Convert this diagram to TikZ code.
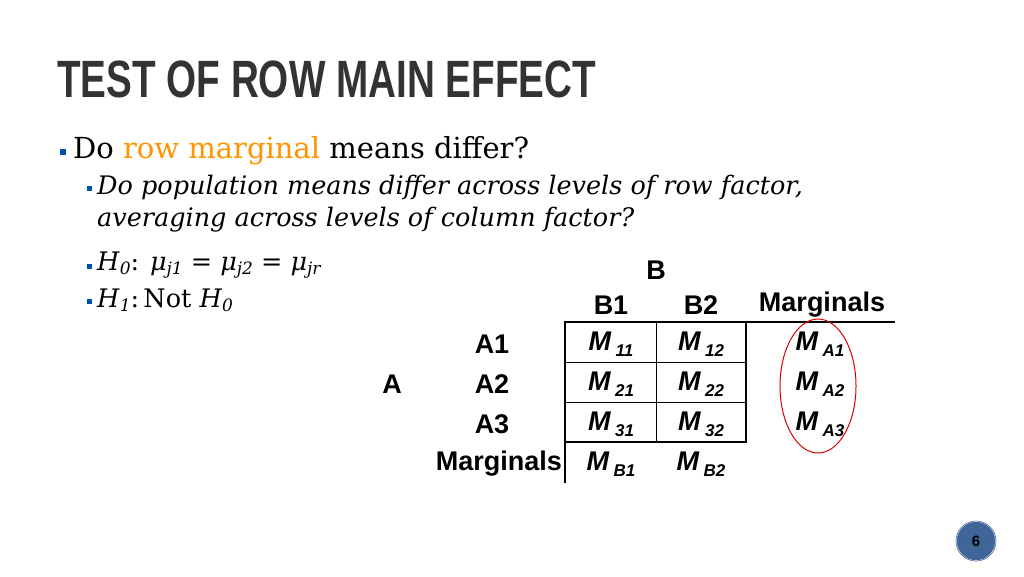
\documentclass[tikz,border=0pt]{standalone}
\usepackage{fontspec}
\setmainfont{DejaVu Serif}
\newfontfamily\arial{Liberation Sans}
\newcommand{\sbx}[1]{\raisebox{-4pt}{\fontsize{17}{17}\selectfont #1}}
\newcommand{\msub}[1]{\,{\fontsize{17}{17}\selectfont\raisebox{-6pt}{#1}}}
\begin{document}
\begin{tikzpicture}[x=1pt,y=-1pt,
  tb/.style={font=\arial\bfseries\fontsize{27}{29}\selectfont,inner sep=0pt},
  mm/.style={font=\arial\bfseries\itshape\fontsize{27}{29}\selectfont,inner sep=0pt},
  bul/.style={fill=blue!55!cyan!70!black,minimum size=#1,inner sep=0pt}]
\useasboundingbox (0,0) rectangle (1024,576);
\fill[white] (0,0) rectangle (1024,576);
\node[anchor=west,inner sep=0pt,text=black!80] (title) at (57,79)
  {\scalebox{0.92}[1.25]{\arial\bfseries\fontsize{42}{44}\selectfont TEST OF ROW MAIN EFFECT}};
\node[bul=6pt] (b1) at (63,152) {};
\node[anchor=west,inner sep=0pt,font=\fontsize{29}{32}\selectfont] (t1) at (73,151)
  {Do \textcolor{orange!85!yellow}{row marginal} means differ?};
\node[bul=5pt] (b2) at (89,188) {};
\node[anchor=west,inner sep=0pt,font=\itshape\fontsize{25.5}{28}\selectfont] (t2) at (97,187)
  {Do population means differ across levels of row factor,};
\node[anchor=west,inner sep=0pt,font=\itshape\fontsize{25.5}{28}\selectfont] (t3) at (97,220)
  {averaging across levels of column factor?};
\node[bul=5pt] (b3) at (89,266) {};
\node[anchor=west,inner sep=0pt,font=\fontsize{25.5}{28}\selectfont] (t4) at (97,265)
  {\textit{H}\sbx{\textit{0}}: \textit{μ}\sbx{\textit{j1}} = \textit{μ}\sbx{\textit{j2}} = \textit{μ}\sbx{\textit{jr}}};
\node[bul=5pt] (b4) at (89,301) {};
\node[anchor=west,inner sep=0pt,font=\fontsize{25.5}{28}\selectfont] (t5) at (97,300)
  {\textit{H}\sbx{\textit{1}}:\,Not \textit{H}\sbx{\textit{0}}};
% table
\node[tb] (B) at (656,270) {B};
\node[tb] (hB1) at (611,305) {B1};
\node[tb] (hB2) at (701,305) {B2};
\node[tb] (hM) at (822,305) {Marginals};
\node[tb] (A1) at (492,344) {A1};
\node[tb] (A2) at (492,384) {A2};
\node[tb] (A3) at (492,424) {A3};
\node[tb] (A) at (392,384) {A};
\node[tb,anchor=east] (rM) at (562,464) {Marginals};
\foreach \r/\y in {1/344,2/384,3/424}{
  \node[mm] (m\r1) at (611,\y) {M\msub{\r1}};
  \node[mm] (m\r2) at (701,\y) {M\msub{\r2}};
  \node[mm] (ma\r) at (820,\y) {M\msub{A\r}};
}
\node[mm] (mb1) at (611,464) {M\msub{B1}};
\node[mm] (mb2) at (701,464) {M\msub{B2}};
\coordinate (tl) at (565,322); \coordinate (br) at (746,442);
\draw[line width=2.2pt] (tl) rectangle (br);
\draw[line width=1pt] (656,322) -- (656,442) (565,362) -- (746,362) (565,402) -- (746,402);
\draw[line width=1.2pt] (746,322) -- (895,322);
\draw[line width=1.2pt] (565,442) -- (565,483);
\draw[red!85!black,line width=1pt] (818,386) ellipse [x radius=38,y radius=67];
% page number
\node[circle,fill=cyan!50!blue!70!black,draw=white,double=cyan!50!blue!70!black,
  minimum size=40pt,inner sep=0pt,font=\arial\bfseries\fontsize{15}{15}\selectfont] (pg) at (976,541) {6};
\end{tikzpicture}
\end{document}
